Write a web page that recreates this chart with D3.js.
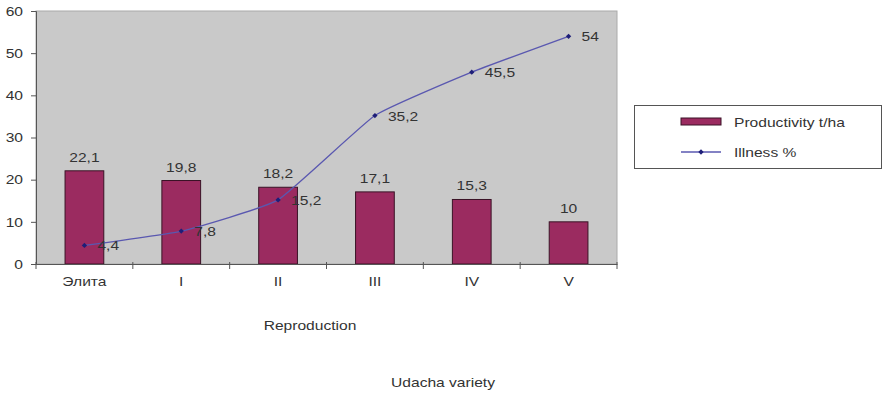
<!DOCTYPE html>
<html><head><meta charset="utf-8">
<script src="https://cdn.jsdelivr.net/npm/d3@7"></script>
<style>
body{margin:0;background:#fff;}
text{font-family:"Liberation Sans",Arial,sans-serif;fill:#333;}
</style></head>
<body><svg id="c" width="886" height="394"></svg>
<script>
const categories = ["Элита","I","II","III","IV","V"];
const productivity = [22.1,19.8,18.2,17.1,15.3,10];
const illness = [4.4,7.8,15.2,35.2,45.5,54];
const yTicks = [0,10,20,30,40,50,60];
const seriesNames = ["Productivity t/ha","Illness %"];
const fmt = v => String(v).replace(".", ",");
const SX = 1.2;
function stretch(sel){
  sel.each(function(){
    const t = d3.select(this);
    const x = +t.attr("x")||0, y = +t.attr("y")||0;
    t.attr("x",0).attr("y",0).attr("transform",`translate(${x},${y}) scale(${SX},1)`);
  });
}

const svg = d3.select("#c");
const L=36, R=617, T=11, B=264;
const x = d3.scaleBand().domain(categories).range([L,R]).paddingInner(0).paddingOuter(0);
const y = d3.scaleLinear().domain([0,60]).range([B,T]);

svg.append("rect").attr("x",L).attr("y",T).attr("width",R-L).attr("height",B-T)
  .attr("fill","#c9c9c9").attr("stroke","#aaa").attr("stroke-width",1);

// bars
const bw = x.bandwidth()*0.4;
svg.selectAll(".bar").data(categories).enter().append("rect")
  .attr("x",d=>x(d)+x.bandwidth()/2-bw/2).attr("y",(d,i)=>y(productivity[i]))
  .attr("width",bw).attr("height",(d,i)=>y(0)-y(productivity[i]))
  .attr("fill","#9b2b60").attr("stroke","#3a1326").attr("stroke-width",1);
svg.selectAll(".blab").data(categories).enter().append("text")
  .attr("x",d=>x(d)+x.bandwidth()/2).attr("y",(d,i)=>y(productivity[i])-9)
  .attr("text-anchor","middle").attr("font-size",13).text((d,i)=>fmt(productivity[i]))
  .call(stretch);

// axes
const ya = svg.append("g").attr("transform",`translate(${L},0)`)
  .call(d3.axisLeft(y).tickValues(yTicks).tickSize(5).tickPadding(8));
ya.select(".domain").attr("stroke","#555");
ya.selectAll("line").attr("stroke","#555");
ya.selectAll("text").attr("font-size",13).attr("fill","#333").style("font-family","Liberation Sans, Arial").call(stretch);
const xa = svg.append("g").attr("transform",`translate(0,${B})`)
  .call(d3.axisBottom(x).tickSize(0).tickPadding(13));
xa.select(".domain").attr("stroke","#555");
xa.selectAll("text").attr("font-size",13).attr("fill","#333").style("font-family","Liberation Sans, Arial").call(stretch);
const bounds = categories.map(c=>x(c)+x.bandwidth()).concat([L]);
svg.append("g").selectAll("line").data(bounds).enter().append("line")
  .attr("x1",d=>d).attr("x2",d=>d).attr("y1",B-2).attr("y2",B+5).attr("stroke","#555");

// line
const cx = d=>x(d)+x.bandwidth()/2;
const line = d3.line().x((d,i)=>cx(categories[i])).y(d=>y(d)).curve(d3.curveCardinal.tension(0.6));
svg.append("path").datum(illness).attr("d",line).attr("fill","none")
  .attr("stroke","#5a58b0").attr("stroke-width",1.3);
const marker = d3.symbol().type(d3.symbolSquare).size(14);
svg.selectAll(".pt").data(illness).enter().append("path")
  .attr("d",marker)
  .attr("transform",(d,i)=>`translate(${cx(categories[i])},${y(d)}) rotate(45)`).attr("fill","#1e1e78");
svg.selectAll(".llab").data(illness).enter().append("text")
  .attr("x",(d,i)=>cx(categories[i])+13).attr("y",(d,i)=>y(d)+5)
  .attr("font-size",13).text(d=>fmt(d)).call(stretch);

// axis titles
svg.append("text").attr("x",310).attr("y",330).attr("text-anchor","middle").attr("font-size",13).attr("fill","#222").text("Reproduction").call(stretch);
svg.append("text").attr("x",443).attr("y",387).attr("text-anchor","middle").attr("font-size",13).attr("fill","#222").text("Udacha variety").call(stretch);

// legend
const lg = svg.append("g");
lg.append("rect").attr("x",634.5).attr("y",105.5).attr("width",247).attr("height",63)
  .attr("fill","#fff").attr("stroke","#555");
lg.append("rect").attr("x",681).attr("y",118).attr("width",40).attr("height",7)
  .attr("fill","#9b2b60").attr("stroke","#3a1326");
lg.append("text").attr("x",734).attr("y",127).attr("font-size",13).attr("fill","#222").text(seriesNames[0]).call(stretch);
lg.append("line").attr("x1",681).attr("x2",721).attr("y1",152).attr("y2",152).attr("stroke","#5a58b0").attr("stroke-width",1.3);
lg.append("path").attr("d",marker).attr("transform","translate(701,152) rotate(45)").attr("fill","#1e1e78");
lg.append("text").attr("x",734).attr("y",157).attr("font-size",13).attr("fill","#222").text(seriesNames[1]).call(stretch);
</script></body></html>
